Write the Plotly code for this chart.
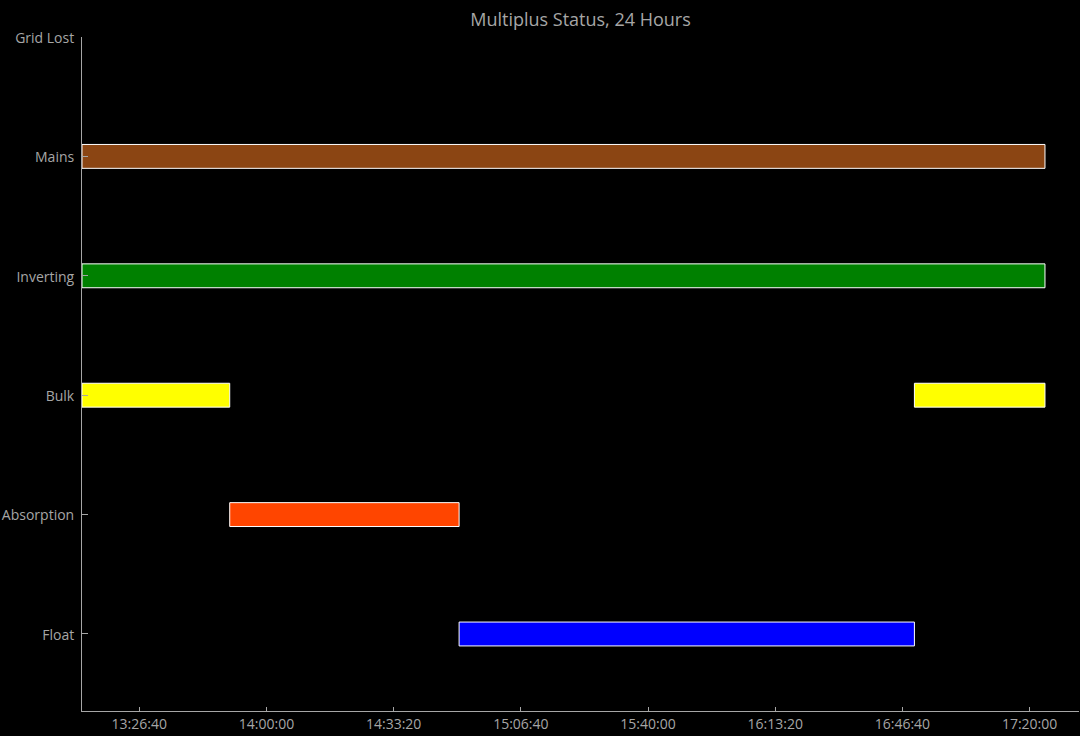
import plotly.graph_objects as go
import pandas as pd

DAY = "2024-01-01 "
states = ["Float", "Absorption", "Bulk", "Inverting", "Mains", "Grid Lost"]
seg_state = ["Mains", "Inverting", "Bulk", "Absorption", "Float", "Bulk"]
seg_start = ["13:11:39", "13:11:39", "13:11:39", "13:50:22", "14:50:29", "16:49:49"]
seg_end = ["17:24:02", "17:24:02", "13:50:22", "14:50:29", "16:49:49", "17:24:02"]
state_colors = {
    "Mains": "#8B4513",
    "Inverting": "#008000",
    "Bulk": "#FFFF00",
    "Absorption": "#FF4500",
    "Float": "#0000FF",
    "Grid Lost": "#FF0000",
}
x_range = ["13:11:39", "17:32:57"]
tick0 = "13:26:40"

fig = go.Figure()
for st, s, e in zip(seg_state, seg_start, seg_end):
    t0 = pd.Timestamp(DAY + s)
    t1 = pd.Timestamp(DAY + e)
    fig.add_trace(go.Bar(
        y=[st],
        x=[(t1 - t0).total_seconds() * 1000],
        base=[t0.strftime("%Y-%m-%d %H:%M:%S")],
        orientation="h",
        width=0.2,
        marker=dict(color=state_colors[st], line=dict(color="white", width=1)),
        showlegend=False,
        hoverinfo="skip",
    ))

grey = "#a6a6a6"
fig.update_layout(
    width=1080, height=736,
    paper_bgcolor="black", plot_bgcolor="black",
    margin=dict(l=82, r=1, t=37, b=25),
    font=dict(family="Open Sans", size=14, color=grey),
    title=dict(text="Multiplus Status, 24 Hours", x=0.5, xref="paper",
               y=1 - 20 / 736, yanchor="middle", yref="container",
               font=dict(size=18, color=grey)),
    barmode="overlay",
    xaxis=dict(
        type="date",
        range=[DAY + x_range[0], DAY + x_range[1]],
        tick0=DAY + tick0, dtick=2000000, tickformat="%H:%M:%S",
        showgrid=False, zeroline=False,
        showline=True, linecolor=grey, linewidth=1,
        ticks="inside", ticklen=4, tickcolor=grey,
    ),
    yaxis=dict(
        type="category",
        categoryorder="array", categoryarray=states,
        tickvals=states,
        range=[-0.645, 5],
        showgrid=False, zeroline=False,
        showline=True, linecolor=grey, linewidth=1,
        ticks="inside", ticklen=6, tickcolor=grey,
        ticklabelstandoff=4, ticklabelshift=1,
    ),
)

fig.write_html("out.html")
